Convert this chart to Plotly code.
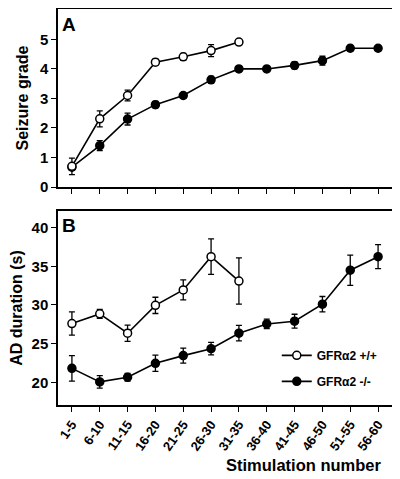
import plotly.graph_objects as go
from plotly.subplots import make_subplots

categories = ["1-5", "6-10", "11-15", "16-20", "21-25", "26-30", "31-35",
              "36-40", "41-45", "46-50", "51-55", "56-60"]

# Panel A: seizure grade
seiz_wt = [0.70, 2.31, 3.10, 4.23, 4.41, 4.62, 4.91]
seiz_wt_err = [0.28, 0.27, 0.18, 0.10, 0.12, 0.20, 0.0]
seiz_ko = [0.67, 1.40, 2.30, 2.79, 3.10, 3.63, 4.00, 4.00, 4.12, 4.28, 4.70, 4.70]
seiz_ko_err = [0.10, 0.17, 0.20, 0.11, 0.10, 0.12, 0.08, 0.08, 0.12, 0.15, 0.10, 0.0]

# Panel B: AD duration (s)
ad_wt = [27.6, 28.85, 26.35, 29.95, 31.95, 36.25, 33.1]
ad_wt_err = [1.5, 0.58, 1.05, 1.05, 1.3, 2.3, 3.0]
ad_ko = [21.8, 20.05, 20.65, 22.45, 23.45, 24.35, 26.35, 27.55, 27.9, 30.1, 34.5, 36.25]
ad_ko_err = [1.65, 0.8, 0.5, 1.05, 0.97, 0.8, 1.0, 0.62, 0.9, 1.0, 1.95, 1.55]

legend_names = ["GFR\u03b12 +/+", "GFR\u03b12 -/-"]

FONT = "Liberation Sans, Arial, sans-serif"
BLACK = "#000000"

fig = make_subplots(rows=2, cols=1, vertical_spacing=0.06)


def add_series(x, y, err, row, filled, name, show):
    fig.add_trace(go.Scatter(
        x=x, y=y,
        mode="lines+markers",
        name=name,
        showlegend=show,
        legendgroup=name,
        line=dict(color=BLACK, width=1.6),
        marker=dict(symbol="circle", size=8,
                    color=BLACK if filled else "white",
                    line=dict(color=BLACK, width=1.5)),
        error_y=dict(type="data", array=err, visible=True,
                     color=BLACK, thickness=1.3, width=3),
        cliponaxis=False,
    ), row=row, col=1)


add_series(categories[:len(seiz_ko)], seiz_ko, seiz_ko_err, 1, True, legend_names[1], False)
add_series(categories[:len(seiz_wt)], seiz_wt, seiz_wt_err, 1, False, legend_names[0], False)
add_series(categories[:len(ad_wt)], ad_wt, ad_wt_err, 2, False, legend_names[0], True)
add_series(categories[:len(ad_ko)], ad_ko, ad_ko_err, 2, True, legend_names[1], True)

axis_common = dict(showline=True, linecolor=BLACK, linewidth=1.5, mirror=True,
                   ticks="outside", tickcolor=BLACK, ticklen=5, tickwidth=1.3,
                   showgrid=False, zeroline=False, automargin=False)

fig.update_xaxes(**axis_common, type="category", categoryorder="array",
                 categoryarray=categories, range=[-0.5, 11.5])
fig.update_xaxes(showticklabels=False, row=1, col=1)
fig.update_xaxes(tickangle=-55, tickfont=dict(family=FONT, size=13, color=BLACK, weight="bold"),
                 row=2, col=1)

fig.update_yaxes(**axis_common, tickfont=dict(family=FONT, size=15, color=BLACK, weight="bold"))
fig.update_yaxes(range=[0, 6.03], tickvals=[0, 1, 2, 3, 4, 5],
                 title=dict(text="Seizure grade", font=dict(family=FONT, size=16, color=BLACK, weight="bold"),
                            standoff=7),
                 domain=[0.5505, 1.0], row=1, col=1)
fig.update_yaxes(range=[17.06, 42.16], tickvals=[20, 25, 30, 35, 40],
                 title=dict(text="AD duration (s)", font=dict(family=FONT, size=16, color=BLACK, weight="bold"),
                            standoff=7),
                 domain=[0.0, 0.4899], row=2, col=1)

fig.add_annotation(text="A", xref="paper", yref="paper", x=0.006, y=0.96,
                   xanchor="left", yanchor="middle", showarrow=False,
                   font=dict(family=FONT, size=19, color=BLACK, weight="bold"))
fig.add_annotation(text="B", xref="paper", yref="paper", x=0.006, y=0.4545,
                   xanchor="left", yanchor="middle", showarrow=False,
                   font=dict(family=FONT, size=19, color=BLACK, weight="bold"))
fig.add_annotation(text="Stimulation number", xref="paper", yref="paper",
                   x=0.975, y=-0.152, xanchor="right", yanchor="middle", showarrow=False,
                   font=dict(family=FONT, size=16.5, color=BLACK, weight="bold"))

# the page body adds an 8px offset, so the figure is sized to fit the 400x479 window
fig.update_layout(
    width=392, height=471,
    margin=dict(l=50, r=8, t=1, b=74),
    paper_bgcolor="white", plot_bgcolor="white",
    font=dict(family=FONT, color=BLACK),
    legend=dict(x=0.655, y=0.162, xanchor="left", yanchor="top",
                bgcolor="rgba(0,0,0,0)", itemwidth=30, tracegroupgap=7,
                font=dict(family=FONT, size=12, color=BLACK, weight="bold")),
)

fig.write_html("out.html")
